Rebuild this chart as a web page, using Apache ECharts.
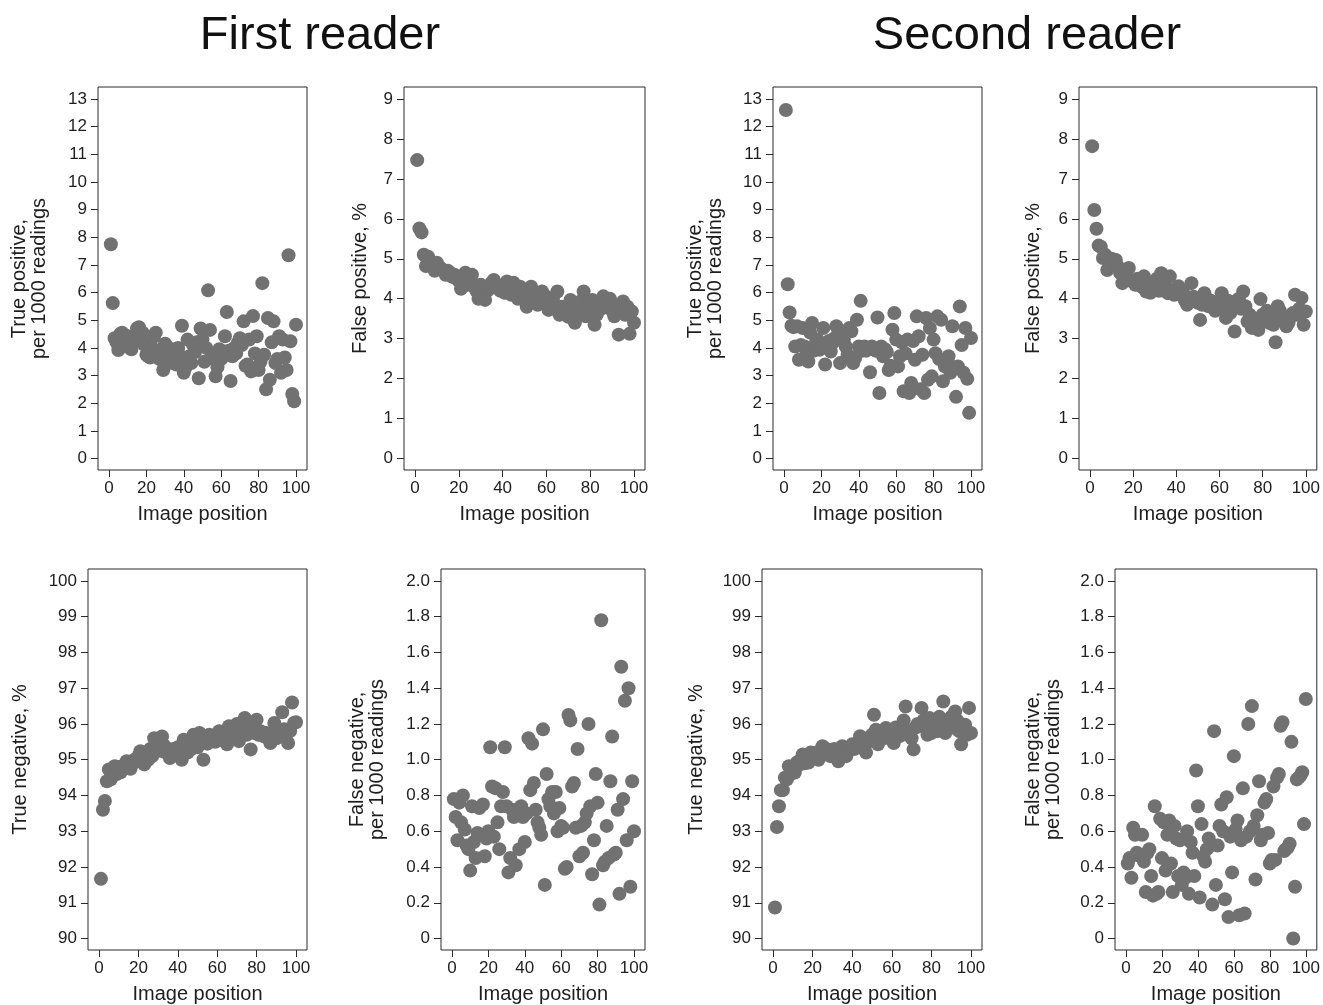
<!DOCTYPE html>
<html>
<head>
<meta charset="utf-8">
<script src="https://cdn.jsdelivr.net/npm/echarts@6/dist/echarts.min.js"></script>
<style>
html, body { margin: 0; padding: 0; background: #fff; }
#main { width: 1323px; height: 1005px; }
</style>
</head>
<body>
<div id="main"></div>
<script>
// image position 1..100
var positions = [1,2,3,4,5,6,7,8,9,10,11,12,13,14,15,16,17,18,19,20,
    21,22,23,24,25,26,27,28,29,30,31,32,33,34,35,36,37,38,39,40,
    41,42,43,44,45,46,47,48,49,50,51,52,53,54,55,56,57,58,59,60,
    61,62,63,64,65,66,67,68,69,70,71,72,73,74,75,76,77,78,79,80,
    81,82,83,84,85,86,87,88,89,90,91,92,93,94,95,96,97,98,99,100];

// first reader
var tpFirst = [7.75,5.62,4.35,4.2,3.92,4.5,4.55,4.1,4.45,4.3,4.0,3.95,4.4,4.25,4.7,4.75,4.3,4.55,4.1,3.75,
    3.7,3.65,4.0,4.4,4.55,3.85,3.6,3.95,3.2,4.15,4.05,3.45,3.85,3.6,3.95,3.4,4.0,3.7,4.8,3.1,
    3.3,4.3,3.7,3.45,4.1,3.85,4.2,2.9,4.7,4.3,3.5,4.0,6.08,4.65,3.8,3.6,2.97,3.3,3.95,3.6,
    3.85,4.42,5.3,3.9,2.8,3.7,4.0,3.8,4.2,4.35,4.1,4.96,3.35,3.4,4.3,3.15,5.15,3.8,4.42,3.2,
    3.5,6.34,3.75,2.5,5.08,2.85,4.2,4.96,3.45,3.6,4.42,3.1,4.3,3.65,3.2,7.35,4.24,2.33,2.07,4.84];
var fpFirst = [7.47,5.76,5.66,5.1,4.82,5.05,4.95,4.85,4.7,4.9,4.8,4.75,4.7,4.6,4.7,4.65,4.55,4.6,4.5,4.45,
    4.25,4.55,4.65,4.35,4.5,4.6,4.3,4.2,4.0,4.35,4.3,3.97,4.2,4.25,4.4,4.47,4.3,4.25,4.2,4.3,
    4.15,4.43,4.2,4.1,4.4,4.25,4.0,4.3,4.15,4.05,3.8,4.2,4.3,3.95,4.1,3.85,4.0,4.18,3.9,4.05,
    3.72,3.9,4.0,3.75,4.18,3.6,3.8,3.65,3.7,3.55,3.97,3.75,3.4,3.72,3.6,3.95,4.18,3.56,3.85,3.7,
    3.97,3.35,3.6,3.85,3.75,4.06,3.9,3.8,4.0,3.7,3.56,3.85,3.1,3.75,3.93,3.6,3.8,3.12,3.68,3.4];
var tnFirst = [91.67,93.6,93.85,94.4,94.73,94.45,94.55,94.82,94.6,94.8,94.65,94.75,94.85,94.96,94.8,94.75,94.9,95.0,94.95,95.1,
    95.24,95.05,94.87,95.15,95.0,95.3,95.1,95.6,95.3,95.45,95.25,95.65,95.4,95.2,95.3,95.05,95.2,95.3,95.15,95.35,
    95.25,95.0,95.56,95.4,95.2,95.45,95.3,95.7,95.5,95.35,95.75,95.5,95.0,95.6,95.45,95.7,95.55,95.66,95.5,95.6,
    95.8,95.55,95.7,95.6,95.43,95.94,95.75,95.85,95.65,96.0,95.52,95.8,95.9,96.17,95.7,95.85,95.29,96.05,95.75,96.12,
    95.7,95.8,95.75,95.65,95.75,95.6,95.47,95.7,96.03,95.6,95.8,95.7,96.33,95.85,95.7,95.47,95.8,96.6,96.03,96.05];
var fnFirst = [0.78,0.68,0.55,0.76,0.65,0.8,0.61,0.52,0.5,0.38,0.74,0.54,0.45,0.59,0.73,0.58,0.75,0.46,0.56,0.6,
    1.07,0.85,0.57,0.84,0.65,0.5,0.74,0.82,1.07,0.74,0.37,0.45,0.72,0.68,0.41,0.72,0.5,0.74,0.68,0.54,
    0.7,1.12,0.83,1.09,0.87,0.72,0.65,0.62,0.58,1.17,0.3,0.92,0.78,0.74,0.82,0.7,0.82,0.6,0.73,0.63,
    0.62,0.39,0.4,1.25,1.22,0.85,0.87,0.62,1.06,0.46,0.63,0.48,0.65,0.7,1.2,0.74,0.36,0.55,0.92,0.76,
    0.19,1.78,0.41,0.43,0.63,0.45,0.88,1.13,0.47,0.48,0.72,0.25,1.52,0.78,1.33,0.55,1.4,0.29,0.88,0.6];

// second reader
var tpSecond = [12.6,6.3,5.28,4.8,4.75,4.05,4.78,3.57,4.1,4.72,4.05,3.8,3.51,4.55,4.9,3.9,4.18,4.3,3.93,4.0,
    4.72,3.4,4.05,4.25,3.87,4.18,4.35,4.78,4.5,3.45,4.42,4.3,4.05,3.75,4.72,4.6,3.45,3.63,5.02,4.05,
    5.7,3.9,4.05,3.9,4.0,3.12,4.05,3.95,3.9,5.1,2.37,4.05,3.7,3.95,3.85,3.2,3.35,4.66,5.26,4.3,
    3.33,3.7,4.2,2.43,3.8,4.3,2.37,2.73,4.25,3.57,5.14,4.42,2.5,3.75,2.37,5.08,2.85,4.72,2.97,4.3,
    3.81,5.14,3.6,5.02,2.79,3.33,3.5,3.7,3.1,4.78,3.3,2.23,3.33,5.5,4.1,3.1,4.72,2.88,1.65,4.36];
var fpSecond = [7.82,6.22,5.75,5.33,5.3,5.02,5.1,4.72,4.9,5.0,4.85,4.97,4.8,4.64,4.39,4.6,4.5,4.77,4.45,4.43,
    4.35,4.5,4.4,4.3,4.56,4.18,4.31,4.15,4.4,4.25,4.5,4.2,4.64,4.3,4.45,4.14,4.56,4.2,4.1,4.25,
    4.31,4.1,4.2,3.95,3.85,4.0,4.39,4.05,3.95,3.9,3.47,3.85,4.14,3.9,3.81,3.95,3.85,3.7,3.9,3.75,
    4.14,3.85,3.52,3.95,3.64,3.85,3.18,3.95,4.0,3.75,4.18,3.81,3.43,3.6,3.27,3.5,3.4,3.22,3.99,3.6,
    3.52,3.7,3.4,3.55,3.35,2.91,3.81,3.7,3.56,3.45,3.31,3.4,3.55,3.64,4.1,3.6,3.75,4.02,3.35,3.68];
var tnSecond = [90.87,93.12,93.7,94.15,94.15,94.5,94.45,94.82,94.6,94.7,94.64,94.92,94.85,95.0,95.15,94.9,95.05,94.92,95.2,95.05,
    95.1,95.2,95.0,95.25,95.38,95.15,95.3,95.2,95.1,95.25,95.3,95.15,94.96,95.2,95.38,95.3,95.1,95.25,95.35,95.43,
    95.3,95.45,95.35,95.66,95.55,95.4,95.2,95.5,95.6,95.7,96.26,95.84,95.43,95.65,95.75,95.6,95.89,95.7,95.8,95.6,
    95.47,95.9,95.7,95.66,95.94,96.1,96.49,95.8,95.75,95.6,95.29,95.9,96.0,95.94,96.45,96.1,96.0,95.7,96.17,95.75,
    96.0,96.12,95.8,96.2,95.98,96.63,95.75,96.05,96.0,96.2,95.9,96.35,96.1,95.8,95.43,95.9,95.98,95.7,96.45,95.75];
var fnSecond = [0.42,0.45,0.34,0.62,0.58,0.48,0.47,0.46,0.58,0.43,0.26,0.48,0.5,0.35,0.24,0.74,0.25,0.26,0.67,0.45,
    0.65,0.38,0.58,0.66,0.42,0.26,0.63,0.56,0.35,0.55,0.3,0.37,0.34,0.6,0.25,0.54,0.48,0.35,0.94,0.74,
    0.23,0.64,0.46,0.43,0.5,0.56,0.52,0.19,1.16,0.3,0.52,0.63,0.75,0.6,0.22,0.79,0.12,0.57,0.37,1.02,
    0.61,0.66,0.13,0.55,0.84,0.14,0.57,1.2,0.6,1.3,0.63,0.33,0.69,0.88,0.55,0.58,0.76,0.78,0.59,0.42,
    0.44,0.85,0.44,0.9,0.92,1.19,1.21,0.49,0.5,0.51,0.53,1.1,0.0,0.29,0.89,0.9,0.91,0.93,0.64,1.34];

// tick labels
var xTicks = [0, 20, 40, 60, 80, 100];
var tpTicks = [0, 1, 2, 3, 4, 5, 6, 7, 8, 9, 10, 11, 12, 13];
var fpTicks = [0, 1, 2, 3, 4, 5, 6, 7, 8, 9];
var tnTicks = [90, 91, 92, 93, 94, 95, 96, 97, 98, 99, 100];
var fnTicks = [0, 0.2, 0.4, 0.6, 0.8, 1.0, 1.2, 1.4, 1.6, 1.8, 2.0];

var chart = echarts.init(document.getElementById('main'));

var textColor = '#1e1e1e';
var lineColor = '#2a2a2a';
var dotColor = '#717171';
var font = 'Liberation Sans, Arial, sans-serif';

function intLabel(v) { return String(Math.round(v)); }
function decLabel(v) { return v === 0 ? '0' : v.toFixed(1); }

// box = [left, top, width, height] of each plot region
var panels = [
    {box: [98, 87, 209, 383], vals: tpFirst, ticks: tpTicks, fmt: intLabel, name: 'True positive,\nper 1000 readings', gap: 49},
    {box: [404, 87, 241, 383], vals: fpFirst, ticks: fpTicks, fmt: intLabel, name: 'False positive, %', gap: 34},
    {box: [773, 87, 209, 383], vals: tpSecond, ticks: tpTicks, fmt: intLabel, name: 'True positive,\nper 1000 readings', gap: 48},
    {box: [1079, 87, 238, 383], vals: fpSecond, ticks: fpTicks, fmt: intLabel, name: 'False positive, %', gap: 36},
    {box: [88, 569, 219, 383], vals: tnFirst, ticks: tnTicks, fmt: intLabel, name: 'True negative, %', gap: 58},
    {box: [441, 569, 204, 383], vals: fnFirst, ticks: fnTicks, fmt: decLabel, name: 'False negative,\nper 1000 readings', gap: 54},
    {box: [762, 569, 220, 383], vals: tnSecond, ticks: tnTicks, fmt: intLabel, name: 'True negative, %', gap: 56},
    {box: [1115, 569, 202, 383], vals: fnSecond, ticks: fnTicks, fmt: decLabel, name: 'False negative,\nper 1000 readings', gap: 52}
];

var grids = [], xAxes = [], yAxes = [], series = [];

panels.forEach(function (p, i) {
    var w = p.box[2], h = p.box[3];
    var xppu = (w - 22) / 100;
    var lo = p.ticks[0], hi = p.ticks[p.ticks.length - 1];
    var yppu = (h - 23.5) / (hi - lo);

    grids.push({
        left: p.box[0], top: p.box[1], width: w, height: h,
        show: true, borderColor: lineColor, borderWidth: 1,
        backgroundColor: 'transparent'
    });
    xAxes.push({
        gridIndex: i, type: 'value', position: 'bottom',
        min: -11 / xppu, max: 100 + 11 / xppu,
        axisLine: {show: false, onZero: false},
        axisTick: {show: true, inside: false, length: 7, customValues: xTicks, lineStyle: {color: lineColor}},
        axisLabel: {customValues: xTicks, color: textColor, fontSize: 17, margin: 10,
            fontFamily: font, formatter: intLabel},
        splitLine: {show: false},
        name: 'Image position', nameLocation: 'middle', nameGap: 34,
        nameTextStyle: {color: textColor, fontSize: 20, fontFamily: font}
    });
    yAxes.push({
        gridIndex: i, type: 'value', position: 'left',
        min: lo - 11.5 / yppu, max: hi + 12 / yppu,
        axisLine: {show: false, onZero: false},
        axisTick: {show: true, inside: false, length: 7, customValues: p.ticks, lineStyle: {color: lineColor}},
        axisLabel: {customValues: p.ticks, color: textColor, fontSize: 17, margin: 11,
            fontFamily: font, formatter: p.fmt},
        splitLine: {show: false},
        name: p.name, nameLocation: 'middle', nameGap: p.gap,
        nameTextStyle: {color: textColor, fontSize: 20, lineHeight: 20, fontFamily: font}
    });
    series.push({
        type: 'scatter', xAxisIndex: i, yAxisIndex: i,
        symbolSize: 14,
        itemStyle: {color: dotColor, opacity: 1},
        data: positions.map(function (x, j) { return [x, p.vals[j]]; })
    });
});

var option = {
    animation: false,
    title: [
        {text: 'First reader', left: 315, top: 8, textAlign: 'center',
            textStyle: {fontSize: 47, fontWeight: 'normal', color: '#111', fontFamily: font}},
        {text: 'Second reader', left: 1022, top: 8, textAlign: 'center',
            textStyle: {fontSize: 47, fontWeight: 'normal', color: '#111', fontFamily: font}}
    ],
    grid: grids,
    xAxis: xAxes,
    yAxis: yAxes,
    series: series
};
chart.setOption(option);
</script>
</body>
</html>
